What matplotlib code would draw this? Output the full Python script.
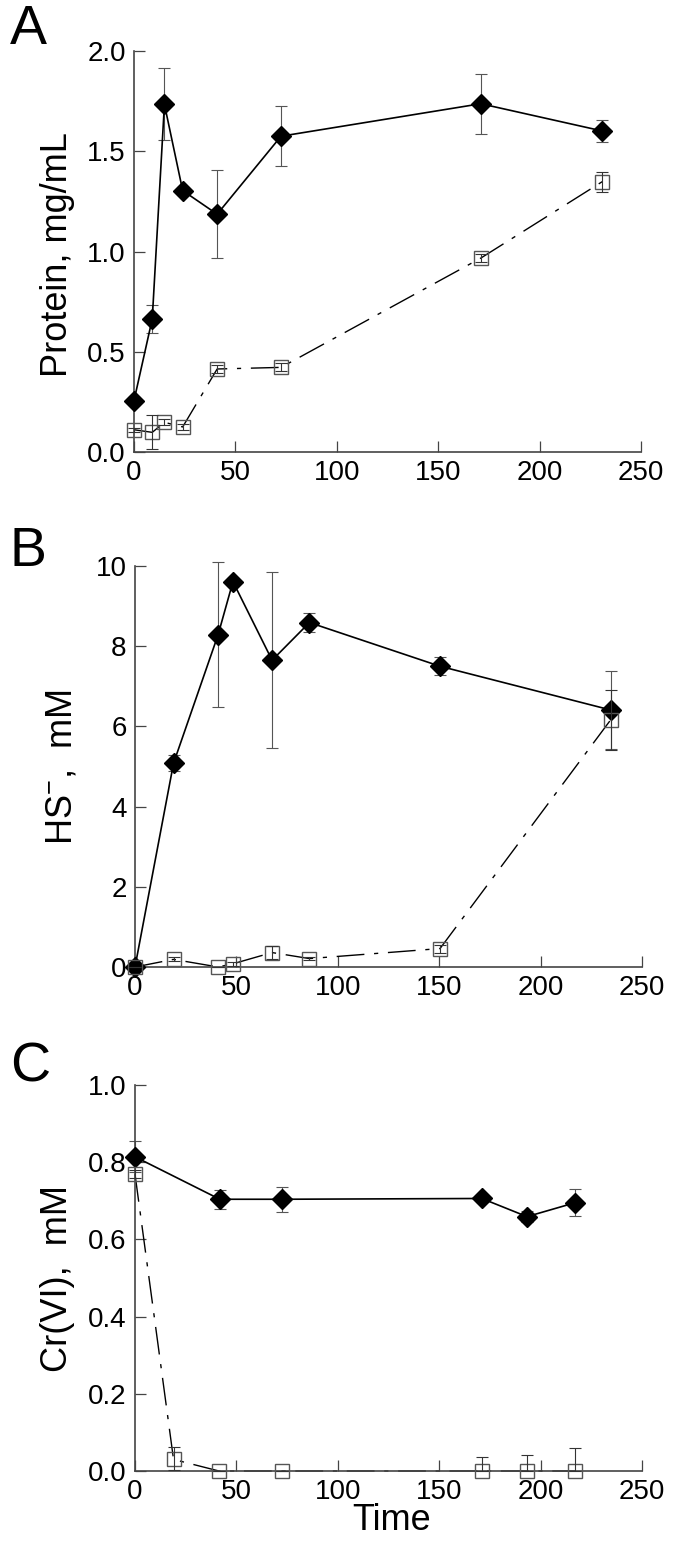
import numpy as np
import matplotlib
matplotlib.use("Agg")
import matplotlib.pyplot as plt
from matplotlib.ticker import FormatStrFormatter

plt.rcParams['font.family'] = ['Liberation Sans', 'DejaVu Sans']
plt.rcParams['mathtext.fontset'] = 'custom'
plt.rcParams['mathtext.rm'] = 'Liberation Sans'
plt.rcParams['mathtext.it'] = 'Liberation Sans'

# panel A: protein
a_t_fill = [0, 9, 15, 24, 41, 72.5, 171, 231]
a_y_fill = [0.256, 0.664, 1.734, 1.304, 1.186, 1.575, 1.737, 1.601]
a_e_fill = [0.02, 0.07, 0.18, 0.02, 0.22, 0.15, 0.15, 0.055]
a_t_open = [0, 9, 15, 24, 41, 72.5, 171, 231]
a_y_open = [0.111, 0.098, 0.148, 0.125, 0.414, 0.422, 0.967, 1.349]
a_e_open = [0.01, 0.085, 0.015, 0.015, 0.02, 0.02, 0.02, 0.05]

# panel B: sulfide
b_t_fill = [0, 19, 41, 48.3, 67.6, 86, 150.4, 234.5]
b_y_fill = [0.0, 5.08, 8.29, 9.61, 7.65, 8.59, 7.50, 6.41]
b_e_fill = [0.05, 0.2, 1.8, 0.1, 2.2, 0.23, 0.23, 0.97]
b_t_open = [0, 19, 41, 48.3, 67.6, 86, 150.4, 234.5]
b_y_open = [0.0, 0.19, 0.0, 0.08, 0.36, 0.21, 0.46, 6.16]
b_e_open = [0.0, 0.05, 0.0, 0.05, 0.17, 0.03, 0.1, 0.75]

# panel C: Cr(VI)
c_t_fill = [0, 41.8, 72.7, 171, 193.3, 217]
c_y_fill = [0.814, 0.704, 0.704, 0.706, 0.659, 0.695]
c_e_fill = [0.04, 0.025, 0.033, 0.01, 0.015, 0.035]
c_t_open = [0, 19, 41.4, 72.7, 171, 193.3, 217]
c_y_open = [0.769, 0.030, 0.0, 0.0, 0.0, 0.0, 0.0]
c_e_open_lo = [0.01, 0.027, 0.0, 0.0, 0.0, 0.0, 0.0]
c_e_open_hi = [0.01, 0.033, 0.0, 0.0, 0.035, 0.041, 0.059]

xticks = [0, 50, 100, 150, 200, 250]

fig = plt.figure(figsize=(6.75, 15.63), dpi=100)
W, H = 675.0, 1563.0

def make_ax(left, right, top, bottom):
    return fig.add_axes([left / W, 1 - bottom / H, (right - left) / W, (bottom - top) / H])

axA = make_ax(134, 641, 51, 452)
axB = make_ax(135, 642, 566, 967)
axC = make_ax(135, 642, 1085, 1471)

dash_dot = (0, (20, 7, 3, 7))

def draw(ax, tf, yf, ef, to, yo, eo):
    ax.errorbar(tf, yf, yerr=ef, fmt='none', ecolor='#555555', elinewidth=0.8,
                capsize=4, capthick=0.8, clip_on=False, zorder=2)
    ax.plot(tf, yf, '-', color='black', lw=1.2, marker='D', ms=10.5,
            mfc='black', mec='black', clip_on=False, zorder=3)
    # dash-dot line sits under the spines so it vanishes along the axis
    ax.plot(to, yo, color='black', lw=1.0, linestyle=dash_dot, clip_on=False, zorder=2.2)
    ax.plot(to, yo, 's', ms=9.5, mfc='none', mec='#555555', mew=1.0,
            clip_on=False, zorder=4)
    ax.errorbar(to, yo, yerr=eo, fmt='none', ecolor='#333333', elinewidth=0.8,
                capsize=4, capthick=0.8, clip_on=False, zorder=5)

draw(axA, a_t_fill, a_y_fill, a_e_fill, a_t_open, a_y_open, a_e_open)
draw(axB, b_t_fill, b_y_fill, b_e_fill, b_t_open, b_y_open, b_e_open)
draw(axC, c_t_fill, c_y_fill, c_e_fill, c_t_open, c_y_open, [c_e_open_lo, c_e_open_hi])

axA.set_ylim(0, 2.0)
axA.set_yticks([0, 0.5, 1.0, 1.5, 2.0])
axA.yaxis.set_major_formatter(FormatStrFormatter('%.1f'))
axB.set_ylim(0, 10)
axB.set_yticks([0, 2, 4, 6, 8, 10])
axC.set_ylim(0, 1.0)
axC.set_yticks([0, 0.2, 0.4, 0.6, 0.8, 1.0])
axC.yaxis.set_major_formatter(FormatStrFormatter('%.1f'))

for ax in (axA, axB, axC):
    ax.set_xlim(0, 250)
    ax.set_xticks(xticks)
    for s in ('top', 'right'):
        ax.spines[s].set_visible(False)
    for s in ('left', 'bottom'):
        ax.spines[s].set_color('#444444')
        ax.spines[s].set_linewidth(1.2)
    ax.tick_params(direction='in', length=8, width=0.9, color='#444444',
                   labelsize=20, pad=6)

fig.text(58 / W, 1 - 255 / H, 'Protein, mg/mL', rotation=90, ha='center', va='center', fontsize=26)
fig.text(62 / W, 1 - 767 / H, r'HS$^{-}$,  mM', rotation=90, ha='center', va='center', fontsize=26)
fig.text(58 / W, 1 - 1278 / H, 'Cr(VI),  mM', rotation=90, ha='center', va='center', fontsize=26)
fig.text(392 / W, 1 - 1520 / H, 'Time', ha='center', va='center', fontsize=26)

fig.text(10 / W, 1 - 30 / H, 'A', ha='left', va='center', fontsize=40)
fig.text(10 / W, 1 - 552 / H, 'B', ha='left', va='center', fontsize=40)
fig.text(10 / W, 1 - 1068 / H, 'C', ha='left', va='center', fontsize=40)

fig.savefig('out.png', dpi=100)
